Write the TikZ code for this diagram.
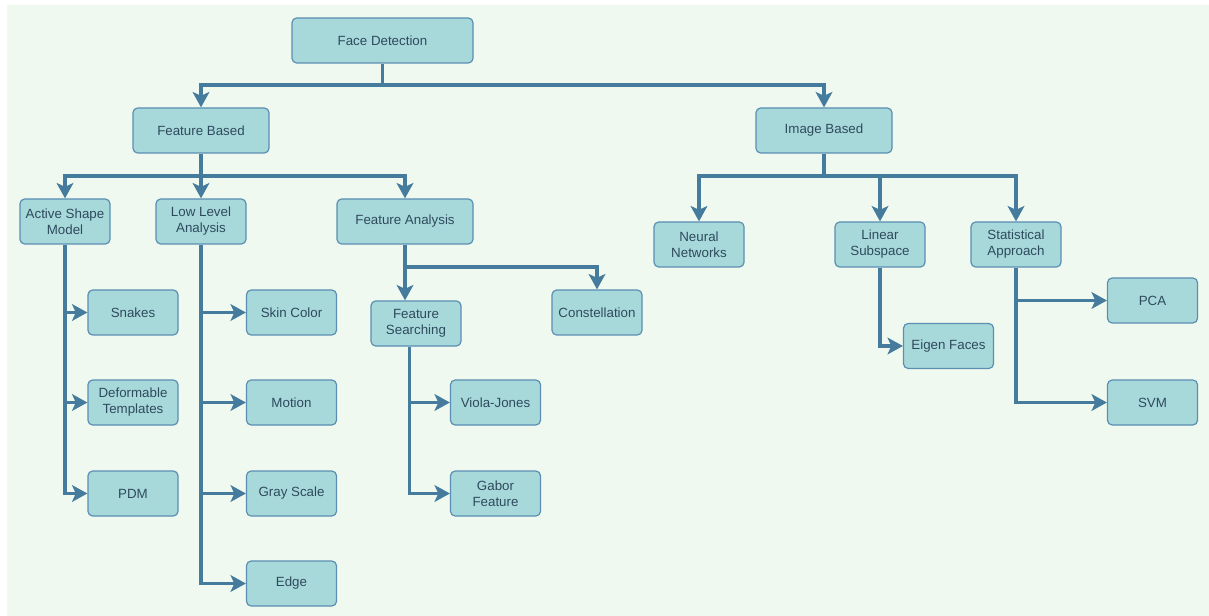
\documentclass[tikz,border=0pt]{standalone}
\usepackage{fontspec}
\setmainfont{Liberation Sans}
\usetikzlibrary{arrows.meta}
\definecolor{bggreen}{HTML}{F0F9EF}
\definecolor{boxfill}{HTML}{A8D9DA}
\definecolor{boxline}{HTML}{5A8FB3}
\definecolor{linkcol}{HTML}{457B9D}
\definecolor{txtcol}{HTML}{2E4A5E}
\tikzset{
  box/.style={draw=boxline, fill=boxfill, line width=0.9pt, rounded corners=3.5pt,
    text=txtcol, align=center, font=\fontsize{10}{12}\selectfont,
    minimum width=67.5pt, minimum height=33.75pt, inner sep=1pt},
  wide/.style={minimum width=102pt},
  link/.style={draw=linkcol, line width=2.5pt,
    -{Stealth[length=11.5pt, width=12.5pt, inset=2.8pt]}},
  plain/.style={draw=linkcol, line width=2.5pt}
}
\begin{document}
\begin{tikzpicture}[x=0.75pt, y=-0.75pt]
\useasboundingbox (0,0) rectangle (1209,616);
\fill[white] (0,0) rectangle (1209,616);
\fill[bggreen] (7,5) rectangle (1209,616);

% level 0
\node[box, minimum width=135.75pt] (fd) at (382.5,40.5) {Face Detection};
% level 1
\node[box, wide] (fb) at (201,130.5) {Feature Based};
\node[box, wide] (ib) at (824,130.5) {Image Based};
% feature based children
\node[box] (asm) at (65,221.5) {Active Shape\\Model};
\node[box] (lla) at (201,221.5) {Low Level\\Analysis};
\node[box, wide] (fa) at (405,221.5) {Feature Analysis};
% ASM children
\node[box] (snakes) at (133,312.5) {Snakes};
\node[box] (deform) at (133,402.5) {Deformable\\Templates};
\node[box] (pdm) at (133,493.5) {PDM};
% LLA children
\node[box] (skin) at (291.5,312.5) {Skin Color};
\node[box] (motion) at (291.5,402.5) {Motion};
\node[box] (gray) at (291.5,493.5) {Gray Scale};
\node[box] (edge) at (291.5,583.5) {Edge};
% FA children
\node[box] (fs) at (416,323.5) {Feature\\Searching};
\node[box] (const) at (597,312.5) {Constellation};
\node[box] (viola) at (495.5,402.5) {Viola-Jones};
\node[box] (gabor) at (495.5,493.5) {Gabor\\Feature};
% image based children
\node[box] (nn) at (699,244.5) {Neural\\Networks};
\node[box] (ls) at (880,244.5) {Linear\\Subspace};
\node[box] (sa) at (1016,244.5) {Statistical\\Approach};
\node[box] (eigen) at (948.5,346) {Eigen Faces};
\node[box] (pca) at (1152.5,300.5) {PCA};
\node[box] (svm) at (1152.5,402.5) {SVM};

% junction coordinates
\coordinate (j0) at (382.5,85);
\coordinate (j1) at (201,176);
\coordinate (j2) at (824,176);
\coordinate (j3) at (405,267);

% Face Detection
\draw[plain] (fd.south) -- (j0);
\draw[link] (j0) -| (fb.north);
\draw[link] (j0) -| (ib.north);
% Feature Based
\draw[plain] (fb.south) -- (j1);
\draw[link] (j1) -| (asm.north);
\draw[link] (j1) -- (lla.north);
\draw[link] (j1) -| (fa.north);
% Active Shape Model
\draw[link] (asm.south) |- (snakes.west);
\draw[link] (asm.south) |- (deform.west);
\draw[link] (asm.south) |- (pdm.west);
% Low Level Analysis
\draw[link] (lla.south) |- (skin.west);
\draw[link] (lla.south) |- (motion.west);
\draw[link] (lla.south) |- (gray.west);
\draw[link] (lla.south) |- (edge.west);
% Feature Analysis
\draw[plain] (fa.south) -- (j3);
\draw[link] (j3) -- (fa.south |- fs.north);
\draw[link] (j3) -| (const.north);
% Feature Searching
\draw[link] ([xshift=-5pt]fs.south) |- (viola.west);
\draw[link] ([xshift=-5pt]fs.south) |- (gabor.west);
% Image Based
\draw[plain] (ib.south) -- (j2);
\draw[link] (j2) -| (nn.north);
\draw[link] (j2) -| (ls.north);
\draw[link] (j2) -| (sa.north);
% Linear Subspace
\draw[link] (ls.south) |- (eigen.west);
% Statistical Approach
\draw[link] (sa.south) |- (pca.west);
\draw[link] (sa.south) |- (svm.west);
\end{tikzpicture}
\end{document}
